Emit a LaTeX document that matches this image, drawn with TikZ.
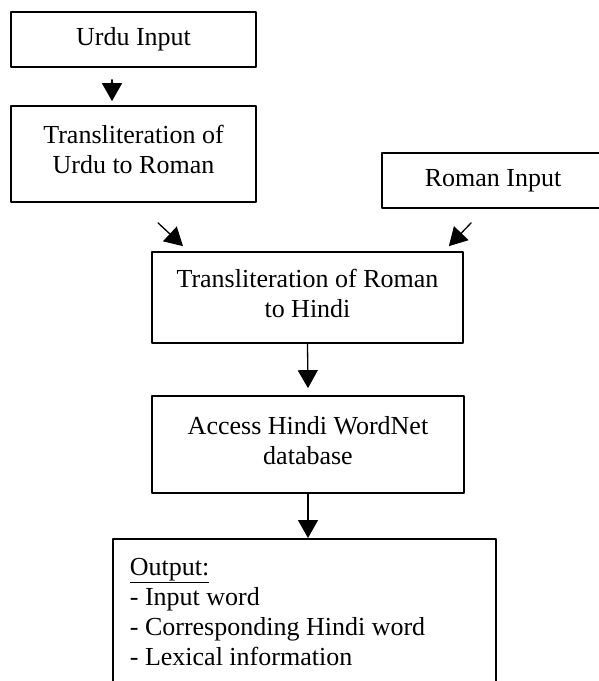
\documentclass[tikz,border=0pt]{standalone}
\usepackage{fontspec}
\setmainfont{Liberation Serif}
\usetikzlibrary{arrows.meta}

\begin{document}
\begin{tikzpicture}[line cap=round,line join=round,>={Triangle[width=20pt,length=18pt]},x=1pt,y=-1pt,
	flowbox/.style={draw,line width=1.7pt,align=center,inner sep=0pt,font=\fontsize{26}{30}\selectfont,execute at end node=\strut},
	flowarrow/.style={->,line width=1.3pt}]
	\useasboundingbox (0,0) rectangle (599,681);
	\clip (0,0) rectangle (599,681);
	\node[flowbox,minimum width=245pt,minimum height=55pt] (urdu) at (133.5,39.5) {Urdu Input};
	\node[flowbox,minimum width=245pt,minimum height=96pt] (urduroman) at (133.5,154) {Transliteration of\\Urdu to Roman};
	\node[flowbox,minimum width=222pt,minimum height=55pt] (roman) at (493,180.5) {Roman Input};
	\node[flowbox,minimum width=311pt,minimum height=91pt] (romanhindi) at (307.5,297.5) {Transliteration of Roman\\to Hindi};
	\node[flowbox,minimum width=312pt,minimum height=97pt] (access) at (308,444.5) {Access Hindi WordNet\\database};
	\node[flowbox,align=flush left,anchor=north west,text width=349pt,inner xsep=17pt,inner ysep=19pt,execute at end node={}] (output) at (112,538)
		{\underline{Output:}\\- Input word\\- Corresponding Hindi word\\- Lexical information\rule[-20pt]{0pt}{20pt}};
	\draw[flowarrow] ([xshift=-21.5pt,yshift=-12pt]urdu.south) -- ([xshift=-21.5pt,yshift=4pt]urduroman.north);
	\draw[flowarrow] ([xshift=24.5pt,yshift=-20pt]urduroman.south) -- ([xshift=-124.5pt,yshift=5pt]romanhindi.north);
	\draw[flowarrow] ([xshift=90pt,yshift=-14pt]roman.south west) -- ([xshift=-15pt,yshift=5pt]romanhindi.north east);
	\draw[flowarrow] (romanhindi.south) -- ([yshift=7pt]access.north);
	\draw[flowarrow] (access.south) -- (access.south |- output.north);
\end{tikzpicture}
\end{document}
